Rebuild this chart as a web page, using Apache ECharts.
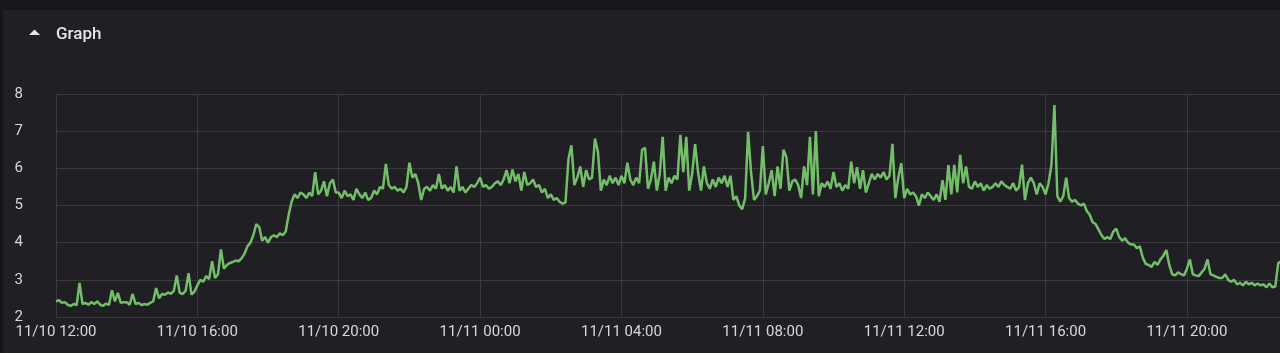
<!DOCTYPE html>
<html>
<head>
<meta charset="utf-8">
<script src="https://cdn.jsdelivr.net/npm/echarts@6/dist/echarts.min.js"></script>
<style>
    html, body { margin: 0; padding: 0; width: 1280px; height: 353px; overflow: hidden; background: #161719; }
    #panel { position: absolute; left: 3px; top: 10px; right: 0; bottom: 0; background: #202024; }
    #chart { position: absolute; left: 0; top: 0; width: 1280px; height: 353px; }
</style>
</head>
<body>
<div id="panel"></div>
<div id="chart"></div>
<script>
// Samples every 5 minutes starting 11/10 12:00, one row per hour
const startTime = Date.UTC(2020, 10, 10, 12, 0);
const endTime = Date.UTC(2020, 10, 11, 22, 38);
const stepMinutes = 5;

const nov10Afternoon = [
    2.42, 2.45, 2.38, 2.40, 2.33, 2.30, 2.35, 2.32, 2.92, 2.35, 2.38, 2.33,
    2.40, 2.35, 2.42, 2.33, 2.30, 2.36, 2.33, 2.72, 2.42, 2.65, 2.38, 2.40,
    2.40, 2.33, 2.62, 2.35, 2.38, 2.32, 2.35, 2.33, 2.38, 2.42, 2.78, 2.50,
    2.62, 2.60, 2.66, 2.62, 2.70, 3.12, 2.65, 2.62, 2.70, 3.18, 2.60, 2.68,
    2.85, 3.00, 2.95, 3.10, 3.02, 3.50, 3.05, 3.15, 3.82, 3.30, 3.40, 3.45,
    3.48, 3.52, 3.50, 3.58, 3.70, 3.90, 4.00, 4.20, 4.50, 4.42, 4.05, 4.15
];
const nov10Evening = [
    4.00, 4.15, 4.20, 4.15, 4.25, 4.20, 4.30, 4.75, 5.10, 5.30, 5.20, 5.35,
    5.30, 5.20, 5.35, 5.25, 5.90, 5.30, 5.40, 5.65, 5.25, 5.60, 5.70, 5.35,
    5.35, 5.20, 5.40, 5.25, 5.30, 5.15, 5.45, 5.30, 5.20, 5.35, 5.15, 5.20,
    5.40, 5.30, 5.50, 5.45, 6.12, 5.55, 5.45, 5.50, 5.40, 5.45, 5.35, 5.50,
    6.15, 5.75, 5.85, 5.60, 5.15, 5.45, 5.50, 5.40, 5.55, 5.45, 5.85, 5.45,
    5.55, 5.40, 5.50, 5.35, 6.05, 5.40, 5.50, 5.35, 5.45, 5.55, 5.50, 5.60
];
const nov11Night = [
    5.75, 5.50, 5.55, 5.45, 5.50, 5.60, 5.65, 5.55, 5.70, 5.95, 5.60, 5.97,
    5.65, 5.85, 5.40, 5.90, 5.55, 5.60, 5.70, 5.50, 5.55, 5.35, 5.45, 5.20,
    5.30, 5.15, 5.20, 5.10, 5.05, 5.08, 6.25, 6.62, 5.55, 5.75, 6.05, 5.50,
    5.95, 5.70, 5.75, 6.80, 6.45, 5.40, 5.70, 5.55, 5.80, 5.60, 5.75, 5.55,
    5.80, 5.60, 6.15, 5.70, 5.55, 5.75, 5.60, 6.50, 6.55, 5.45, 5.70, 6.18,
    5.40, 5.85, 6.85, 5.40, 5.75, 5.60, 5.80, 5.70, 6.90, 5.90, 6.85, 5.40
];
const nov11Morning = [
    5.85, 6.65, 5.90, 5.40, 6.05, 5.60, 5.45, 5.70, 5.50, 5.75, 5.60, 5.80,
    5.50, 5.80, 5.15, 5.25, 5.00, 4.90, 5.20, 6.98, 5.90, 5.15, 5.25, 5.40,
    6.60, 5.30, 5.60, 5.95, 5.25, 6.05, 5.45, 6.50, 6.30, 5.40, 5.65, 5.70,
    5.55, 5.20, 6.05, 5.55, 6.85, 5.30, 7.00, 5.25, 5.60, 5.50, 5.65, 5.45,
    5.90, 5.50, 5.60, 5.40, 5.55, 5.45, 6.18, 5.60, 6.03, 5.45, 5.95, 5.35,
    5.60, 5.85, 5.70, 5.85, 5.75, 5.90, 5.70, 5.80, 6.66, 5.20, 5.75, 6.14
];
const nov11Afternoon = [
    5.20, 5.45, 5.30, 5.35, 5.25, 5.00, 5.30, 5.20, 5.35, 5.25, 5.15, 5.30,
    5.10, 5.68, 5.15, 6.09, 5.30, 6.09, 5.35, 6.36, 5.60, 6.05, 5.50, 5.45,
    5.65, 5.50, 5.60, 5.40, 5.55, 5.45, 5.50, 5.60, 5.50, 5.65, 5.55, 5.50,
    5.45, 5.60, 5.40, 5.50, 6.10, 5.15, 5.60, 5.75, 5.60, 5.30, 5.60, 5.50,
    5.30, 5.60, 6.10, 7.70, 5.25, 5.10, 5.25, 5.75, 5.20, 5.10, 5.15, 5.05,
    5.00, 5.05, 4.85, 4.75, 4.55, 4.50, 4.35, 4.20, 4.10, 4.15, 4.10, 4.30
];
const nov11Evening = [
    4.38, 4.15, 4.05, 4.12, 4.00, 3.95, 3.95, 3.85, 3.90, 3.60, 3.43, 3.40,
    3.35, 3.48, 3.40, 3.55, 3.65, 3.80, 3.40, 3.15, 3.12, 3.20, 3.15, 3.12,
    3.30, 3.55, 3.15, 3.12, 3.10, 3.20, 3.30, 3.55, 3.15, 3.12, 3.08, 3.05,
    3.05, 3.15, 3.00, 2.95, 3.00, 2.88, 2.92, 2.85, 2.95, 2.88, 2.92, 2.85,
    2.90, 2.85, 2.88, 2.80, 2.90, 2.80, 2.82, 3.45, 3.50
];

const yTicks = [2, 3, 4, 5, 6, 7, 8];

const HOUR = 3600 * 1000;
const allValues = [].concat(nov10Afternoon, nov10Evening, nov11Night, nov11Morning, nov11Afternoon, nov11Evening);
const seriesData = allValues.map((v, i) => [startTime + i * stepMinutes * 60 * 1000, v]);

function fmtTime(v) {
    const d = new Date(v);
    const p = n => String(n).padStart(2, '0');
    return p(d.getUTCMonth() + 1) + '/' + p(d.getUTCDate()) + ' ' + p(d.getUTCHours()) + ':' + p(d.getUTCMinutes());
}

const myChart = echarts.init(document.getElementById('chart'));
const option = {
    backgroundColor: 'transparent',
    animation: false,
    textStyle: { fontFamily: 'Roboto, "Noto Sans", sans-serif' },
    title: {
        text: 'Graph',
        left: 56,
        top: 26,
        padding: 0,
        textStyle: { color: '#e4e4e8', fontSize: 17, fontWeight: 500 }
    },
    graphic: [{
        type: 'polygon',
        shape: { points: [[29, 35], [34.5, 29.5], [40, 35]] },
        style: { fill: '#e4e4e8' }
    }],
    grid: { left: 56, right: 0, top: 94, bottom: 36 },
    xAxis: {
        type: 'value',
        min: startTime,
        max: endTime,
        interval: 4 * HOUR,
        axisLine: { show: false },
        axisTick: { show: false },
        splitLine: { show: true, lineStyle: { color: '#3a3a3f', width: 1 } },
        axisLabel: {
            color: '#d8d8dc',
            fontSize: 15,
            margin: 8,
            showMaxLabel: false,
            formatter: fmtTime
        }
    },
    yAxis: {
        type: 'value',
        min: yTicks[0],
        max: yTicks[yTicks.length - 1],
        interval: 1,
        axisLine: { show: false },
        axisTick: { show: false },
        splitLine: { show: true, lineStyle: { color: '#3a3a3f', width: 1 } },
        axisLabel: { color: '#d8d8dc', fontSize: 15, margin: 33 }
    },
    series: [{
        type: 'line',
        data: seriesData,
        showSymbol: false,
        lineStyle: { color: '#73bf69', width: 2.5 },
        itemStyle: { color: '#73bf69' }
    }]
};
myChart.setOption(option);
</script>
</body>
</html>
